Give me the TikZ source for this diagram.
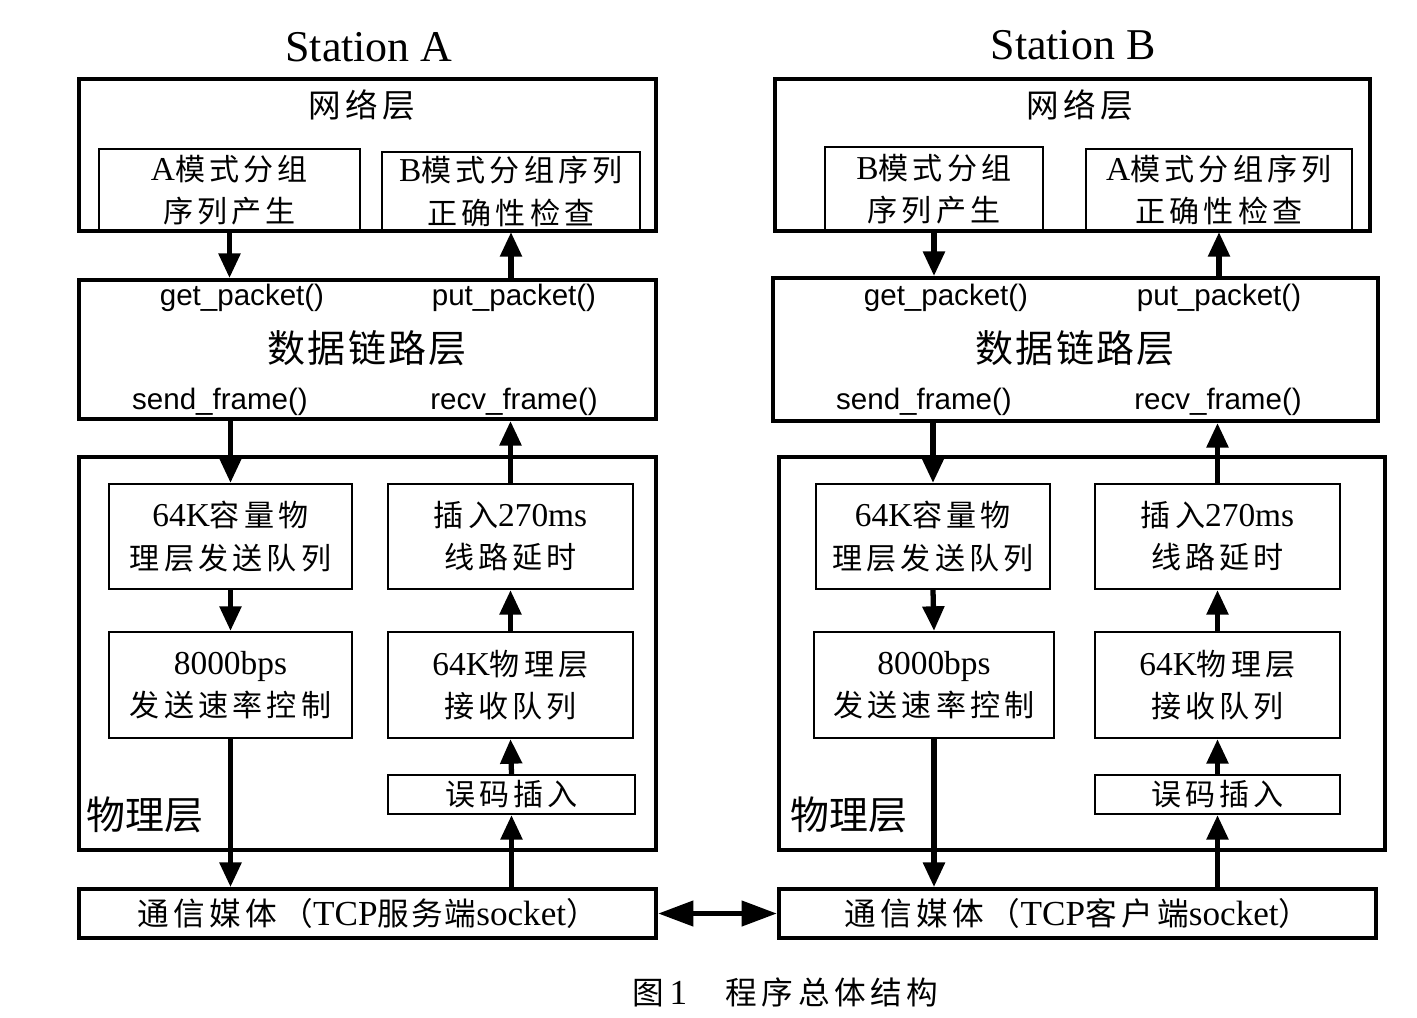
\documentclass[tikz,border=0pt]{standalone}
\usepackage{fontspec}
\setmainfont{Liberation Serif}
\newfontfamily\arialfont{Liberation Sans}
\newfontfamily\zhfont[Scale=0.9,LetterSpace=14]{Noto Sans CJK SC}
\newfontfamily\zhtight[Scale=0.9,LetterSpace=6]{Noto Sans CJK SC}
\newfontfamily\zhplain[Scale=0.9]{Noto Sans CJK SC}
\newcommand{\zh}[1]{{\zhfont #1}}
\newcommand{\zht}[1]{{\zhtight #1}}
\usetikzlibrary{arrows.meta}

\tikzset{
  layer/.style={draw, line width=1.1pt, inner sep=0pt},
  unit/.style={draw, line width=0.6pt, inner sep=0pt, align=center, font=\fontsize{9.5}{12}\selectfont},
  flow/.style={-{Triangle[length=7pt,width=6pt]}, line width=1.5pt},
  func/.style={font=\arialfont\fontsize{8.4}{10}\selectfont, inner sep=0pt},
  title/.style={font=\fontsize{12.5}{14}\selectfont, inner sep=0pt},
}

\begin{document}
\begin{tikzpicture}[x=0.01cm, y=-0.01cm]
  \useasboundingbox (0,0) rectangle (1417,1017);

  % Station A
  \node[title] (titleA) at (369,47) {Station A};

  \node[layer, minimum width=5.77cm, minimum height=1.52cm] (netA) at (367.5,155) {};
  \node[font=\fontsize{10.3}{12}\selectfont] (netAtxt) at (362,105) {\zh{网络层}};
  \node[unit, minimum width=2.61cm, minimum height=0.82cm] (genA) at (229.5,190) {A\zh{模式分组}\\\zh{序列产生}};
  \node[unit, minimum width=2.58cm, minimum height=0.79cm] (chkA) at (511,191.5) {B\zh{模式分组序列}\\\zh{正确性检查}};

  \node[layer, minimum width=5.77cm, minimum height=1.39cm] (dllA) at (367.5,349.5) {};
  \node[func] (getA) at (242,298) {get\_packet()};
  \node[func] (putA) at (514,298) {put\_packet()};
  \node[font=\fontsize{12}{14}\selectfont] (dllAtxt) at (367,348) {\zht{数据链路层}};
  \node[func] (sendA) at (220,402) {send\_frame()};
  \node[func] (recvA) at (514,402) {recv\_frame()};

  \node[layer, minimum width=5.77cm, minimum height=3.93cm] (phyA) at (367.5,653.5) {};
  \node[font=\fontsize{12.3}{14}\selectfont] (phyAtxt) at (145,815) {{\zhplain 物理层}};
  \node[unit, minimum width=2.43cm, minimum height=1.05cm] (sendqA) at (230.5,536.5) {64K\zh{容量物}\\\zh{理层发送队列}};
  \node[unit, minimum width=2.43cm, minimum height=1.06cm] (rateA) at (230.5,685) {8000bps\\\zh{发送速率控制}};
  \node[unit, minimum width=2.45cm, minimum height=1.05cm] (delayA) at (510.5,536.5) {\zh{插入}270ms\\\zh{线路延时}};
  \node[unit, minimum width=2.45cm, minimum height=1.06cm] (rqA) at (510.5,685) {64K\zh{物理层}\\\zh{接收队列}};
  \node[unit, minimum width=2.47cm, minimum height=0.39cm] (errA) at (511.5,794.5) {\zh{误码插入}};

  \node[layer, minimum width=5.77cm, minimum height=0.49cm, font=\fontsize{10}{12}\selectfont] (medA) at (367.5,913.5) {\zh{通信媒体（}TCP\zht{服务端}socket\zh{）}};

  \draw[flow] (genA.south) -- (genA.south |- dllA.north);
  \draw[flow] (chkA.south |- dllA.north) -- (chkA.south);
  \draw[flow] (sendqA.north |- dllA.south) -- (sendqA.north);
  \draw[flow] (sendqA.south) -- (rateA.north);
  \draw[flow] (rateA.south) -- (rateA.south |- medA.north);
  \draw[flow] (errA.south |- medA.north) -- (errA.south);
  \draw[flow] (errA.north) -- (rqA.south);
  \draw[flow] (rqA.north) -- (delayA.south);
  \draw[flow] (delayA.north) -- (delayA.north |- dllA.south);

  % Station B
  \node[title] (titleB) at (1073,45) {Station B};

  \node[layer, minimum width=5.95cm, minimum height=1.52cm] (netB) at (1072.5,155) {};
  \node[font=\fontsize{10.3}{12}\selectfont] (netBtxt) at (1080,105) {\zh{网络层}};
  \node[unit, minimum width=2.18cm, minimum height=0.84cm] (genB) at (934,189) {B\zh{模式分组}\\\zh{序列产生}};
  \node[unit, minimum width=2.66cm, minimum height=0.82cm] (chkB) at (1219,190) {A\zh{模式分组序列}\\\zh{正确性检查}};

  \node[layer, minimum width=6.05cm, minimum height=1.43cm] (dllB) at (1075.5,349.5) {};
  \node[func] (getB) at (946,298) {get\_packet()};
  \node[func] (putB) at (1219,298) {put\_packet()};
  \node[font=\fontsize{12}{14}\selectfont] (dllBtxt) at (1075,348) {\zht{数据链路层}};
  \node[func] (sendB) at (924,402) {send\_frame()};
  \node[func] (recvB) at (1218,402) {recv\_frame()};

  \node[layer, minimum width=6.06cm, minimum height=3.93cm] (phyB) at (1082,653.5) {};
  \node[font=\fontsize{12.3}{14}\selectfont] (phyBtxt) at (849,815) {{\zhplain 物理层}};
  \node[unit, minimum width=2.34cm, minimum height=1.05cm] (sendqB) at (933,536.5) {64K\zh{容量物}\\\zh{理层发送队列}};
  \node[unit, minimum width=2.40cm, minimum height=1.06cm] (rateB) at (934,685) {8000bps\\\zh{发送速率控制}};
  \node[unit, minimum width=2.45cm, minimum height=1.05cm] (delayB) at (1217.5,536.5) {\zh{插入}270ms\\\zh{线路延时}};
  \node[unit, minimum width=2.45cm, minimum height=1.06cm] (rqB) at (1217.5,685) {64K\zh{物理层}\\\zh{接收队列}};
  \node[unit, minimum width=2.45cm, minimum height=0.39cm] (errB) at (1217.5,794.5) {\zh{误码插入}};

  \node[layer, minimum width=5.97cm, minimum height=0.49cm, font=\fontsize{10}{12}\selectfont] (medB) at (1077.5,913.5) {\zh{通信媒体（}TCP\zh{客户端}socket\zh{）}};

  \draw[flow] (genB.south) -- (genB.south |- dllB.north);
  \draw[flow] (chkB.south |- dllB.north) -- (chkB.south);
  \draw[flow] (sendqB.north |- dllB.south) -- (sendqB.north);
  \draw[flow] (sendqB.south) -- (rateB.north);
  \draw[flow] (rateB.south) -- (rateB.south |- medB.north);
  \draw[flow] (errB.south |- medB.north) -- (errB.south);
  \draw[flow] (errB.north) -- (rqB.south);
  \draw[flow] (rqB.north) -- (delayB.south);
  \draw[flow] (delayB.north) -- (delayB.north |- dllB.south);

  % link between the two stations
  \draw[{Triangle[length=10pt,width=7pt]}-{Triangle[length=10pt,width=7pt]}, line width=1.5pt] (medA.east) -- (medB.west);

  \node[font=\fontsize{10}{12}\selectfont] (caption) at (785,992) {\zh{图}\,1\hspace{1.1em}\zh{程序总体结构}};
\end{tikzpicture}
\end{document}
